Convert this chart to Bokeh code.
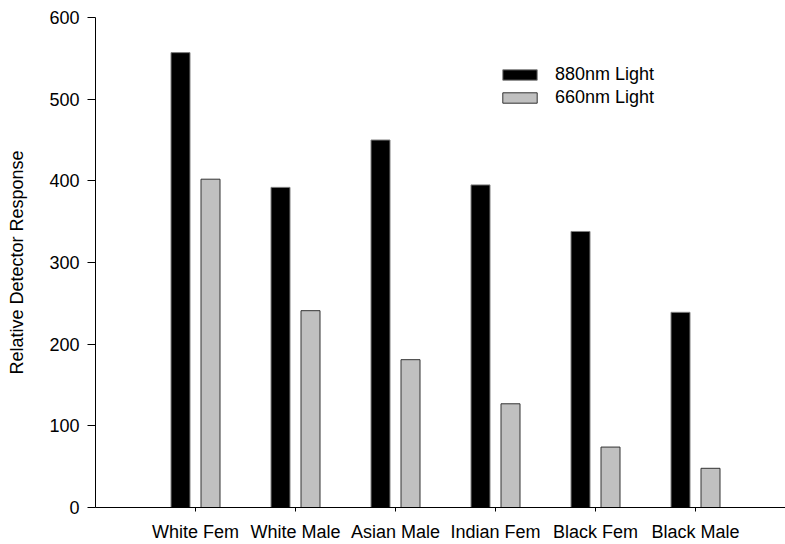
from bokeh.plotting import figure
from bokeh.models import ColumnDataSource, FixedTicker, Range1d, Legend, LegendItem
from bokeh.embed import file_html
from bokeh.resources import INLINE

categories = ["White Fem", "White Male", "Asian Male", "Indian Fem", "Black Fem", "Black Male"]
light_880 = [557, 392, 450, 395, 338, 239]
light_660 = [402, 241, 181, 127, 74, 48]
y_ticks = [0, 100, 200, 300, 400, 500, 600]

pos = list(range(1, len(categories) + 1))
offset = 0.15
bar_w = 0.19

src = ColumnDataSource(dict(
    x880=[p - offset for p in pos],
    x660=[p + offset for p in pos],
    v880=light_880,
    v660=light_660,
))

FONT = "Liberation Sans"

p = figure(width=785, height=544, output_backend="svg", toolbar_location=None,
           x_range=Range1d(0, 6.9), y_range=Range1d(0, 600),
           min_border_left=95, min_border_right=0, min_border_top=17, min_border_bottom=37)
p.outline_line_color = None
p.xgrid.visible = False
p.ygrid.visible = False

r1 = p.vbar(x="x880", top="v880", width=bar_w, source=src, fill_color="black", line_color="#808080", line_width=1)
r2 = p.vbar(x="x660", top="v660", width=bar_w, source=src, fill_color="#C0C0C0", line_color="#333333", line_width=1)

p.xaxis.ticker = FixedTicker(ticks=pos)
p.xaxis.major_label_overrides = {i + 1: c for i, c in enumerate(categories)}
p.yaxis.ticker = FixedTicker(ticks=y_ticks)
p.yaxis.axis_label = "Relative Detector Response"

for ax in (p.xaxis, p.yaxis):
    ax.axis_line_color = "black"
    ax.axis_line_width = 1
    ax.major_tick_line_color = "black"
    ax.minor_tick_line_color = None
    ax.major_tick_in = 0
    ax.major_label_text_font = FONT
    ax.major_label_text_font_size = "18px"
    ax.major_label_text_color = "black"
    ax.axis_label_text_font = FONT
    ax.axis_label_text_font_size = "18px"
    ax.axis_label_text_font_style = "normal"
    ax.axis_label_text_color = "black"

p.yaxis.major_tick_out = 8
p.yaxis.major_label_standoff = 8
p.yaxis.axis_label_standoff = 19
p.xaxis.major_tick_out = 4
p.xaxis.major_label_standoff = 10

legend = Legend(items=[LegendItem(label="880nm Light", renderers=[r1]),
                       LegendItem(label="660nm Light", renderers=[r2])],
                location=(403, 399))
legend.border_line_color = None
legend.background_fill_alpha = 0
legend.padding = 0
legend.margin = 0
legend.glyph_width = 43
legend.glyph_height = 13
legend.label_height = 13
legend.spacing = 2
legend.label_standoff = 14
legend.label_text_font = FONT
legend.label_text_font_size = "18px"
legend.label_text_color = "black"
p.add_layout(legend)

open("out.html", "w").write(file_html(p, INLINE))
